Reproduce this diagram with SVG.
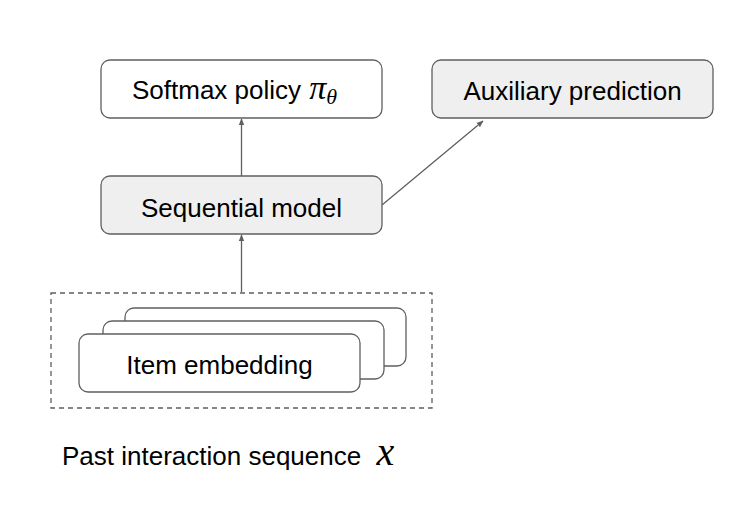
<svg xmlns="http://www.w3.org/2000/svg" width="747" height="507" viewBox="0 0 747 507">
<style>
.box{stroke:#5f5f5f;stroke-width:1.3;}
.w{fill:#ffffff;}
.g{fill:#efefef;}
.t{font-family:"Liberation Sans",Arial,sans-serif;font-size:26px;fill:#000;}
.m{font-family:"Liberation Serif","Times New Roman",serif;font-style:italic;fill:#000;}
.c{stroke:#5f5f5f;stroke-width:1.3;fill:none;}
</style>
<defs>
<marker id="ah" viewBox="0 0 10 10" refX="9" refY="5" markerWidth="7" markerHeight="7" markerUnits="userSpaceOnUse" orient="auto">
<path d="M0,1 L10,5 L0,9 z" fill="#5f5f5f"/>
</marker>
</defs>
<rect width="747" height="507" fill="#ffffff"/>
<g id="connectors">
<line class="c" x1="241.5" y1="176" x2="241.5" y2="119" marker-end="url(#ah)"/>
<line class="c" x1="241.5" y1="292" x2="241.5" y2="235" marker-end="url(#ah)"/>
<line class="c" x1="382" y1="205" x2="483" y2="121" marker-end="url(#ah)"/>
</g>
<g id="softmax">
<rect class="box w" x="101" y="60" width="281" height="58" rx="9"/>
<text class="t" x="132" y="99">Softmax policy <tspan class="m" font-size="34" dx="1">π</tspan><tspan class="m" font-size="22" dy="5">θ</tspan></text>
</g>
<g id="auxiliary">
<rect class="box g" x="432" y="60" width="281" height="58" rx="9"/>
<text class="t" x="572.5" y="100" text-anchor="middle">Auxiliary prediction</text>
</g>
<g id="sequential">
<rect class="box g" x="101" y="176" width="281" height="58" rx="9"/>
<text class="t" x="241.5" y="217" text-anchor="middle">Sequential model</text>
</g>
<g id="sequence">
<rect x="51" y="293" width="381" height="115" fill="none" stroke="#5f5f5f" stroke-width="1.3" stroke-dasharray="5,4"/>
<rect class="box w" x="125" y="308" width="281" height="58" rx="9"/>
<rect class="box w" x="103" y="321" width="281" height="58" rx="9"/>
<rect class="box w" x="79" y="334" width="281" height="58" rx="9"/>
<text class="t" x="219.5" y="374" text-anchor="middle">Item embedding</text>
</g>
<g id="label">
<text class="t" x="62" y="465">Past interaction sequence <tspan class="m" font-size="40" dx="8">x</tspan></text>
</g>
</svg>
